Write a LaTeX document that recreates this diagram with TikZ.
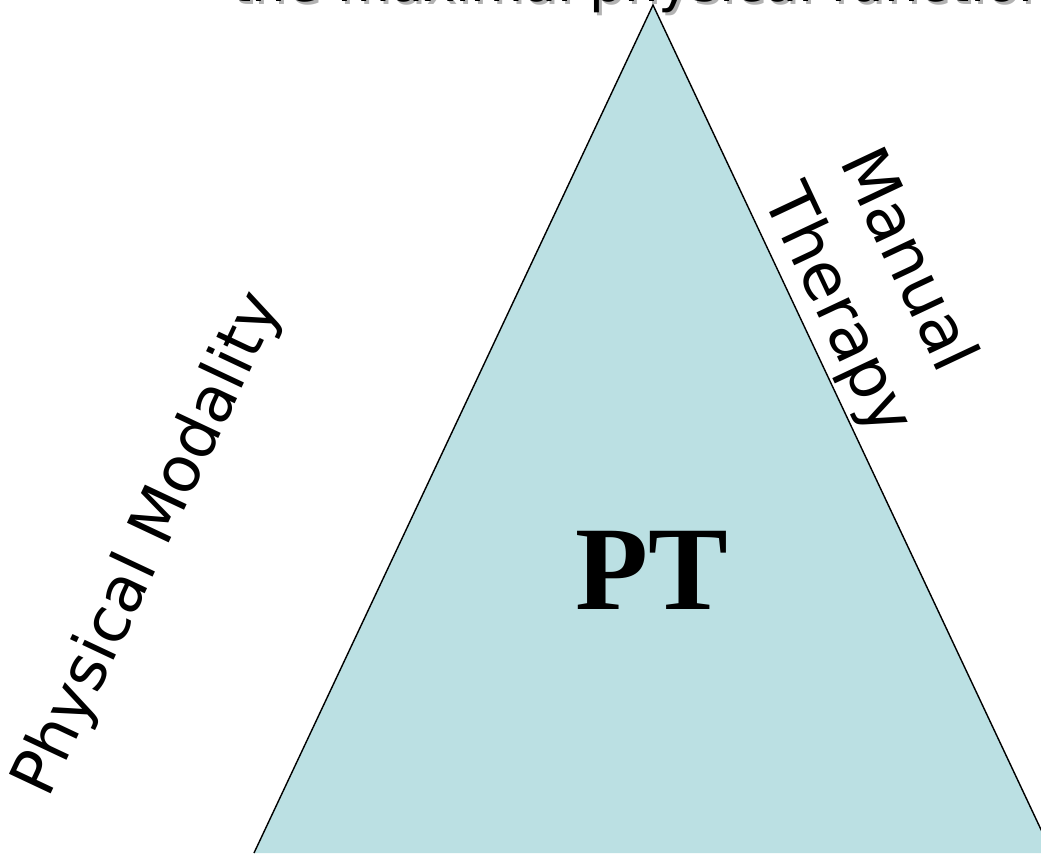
\documentclass[tikz,border=0pt]{standalone}
\usepackage{fontspec}
\setmainfont{DejaVu Sans}
\newfontfamily\ptfont{Liberation Serif}
\usetikzlibrary{positioning}
\definecolor{ptfill}{HTML}{BBE0E3}
\definecolor{shadowgray}{HTML}{B2B2B2}
\tikzset{
  sidelabel/.style={font=\fontsize{37}{48}\selectfont,inner sep=0pt},
}

\begin{document}
\begin{tikzpicture}
  \clip (0,0) rectangle (20.82,17.06);
  \coordinate (apex) at (13.06,16.96);
  \coordinate (baseL) at (5.08,0);
  \coordinate (baseR) at (21.04,0);
  \fill[ptfill] (apex) -- (baseL) -- (baseR) -- cycle;
  \draw[line width=0.8pt,line join=miter] (baseL) -- (apex) -- (baseR);
  % title, cut off at the top
  \node[anchor=base west,inner sep=0pt,text=shadowgray,font=\fontsize{31}{37}\selectfont] (titleshadow) at (4.66,16.96) {the maximal physical function};
  \node[anchor=base west,inner sep=0pt,font=\fontsize{31}{37}\selectfont] (title) at (4.6,17.02) {the maximal physical function};
  \node[font=\ptfont\bfseries\fontsize{68}{78}\selectfont,inner sep=0pt] (pt) at (13.04,5.66) {PT};
  \node[sidelabel,font=\fontsize{36}{44}\selectfont,rotate=64.8] (modality) at (2.98,6.16) {Physical Modality};
  \node[sidelabel,align=left,rotate=-64.8] (manual) at (17.48,11.2) {Manual\\Therapy};
\end{tikzpicture}
\end{document}
